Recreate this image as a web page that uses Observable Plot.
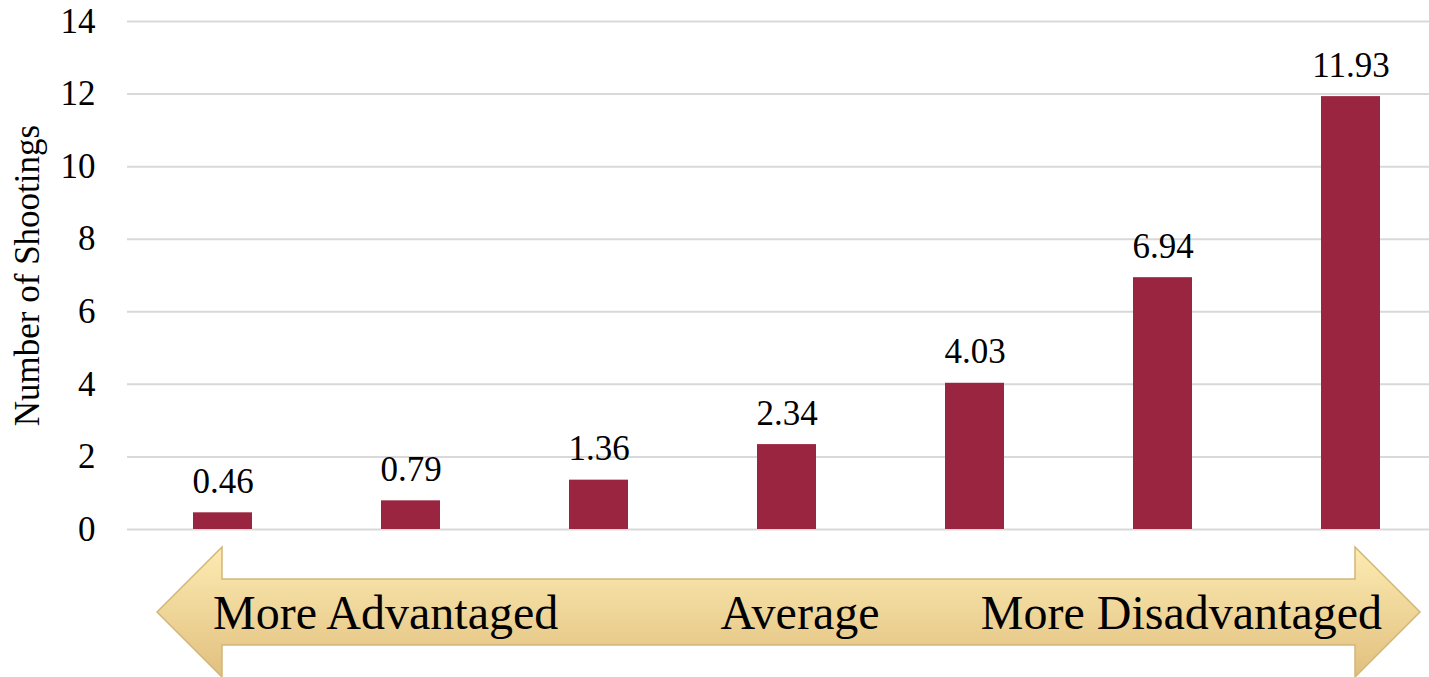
<!DOCTYPE html>
<html>
<head>
<meta charset="utf-8">
<script src="https://cdn.jsdelivr.net/npm/d3@7"></script>
<script src="https://cdn.jsdelivr.net/npm/@observablehq/plot@0.6"></script>
<style>
  html, body { margin: 0; padding: 0; background: #fff; }
  #chart svg { display: block; }
</style>
</head>
<body>
<div id="chart"></div>
<script>
const categories = ["1", "2", "3", "4", "5", "6", "7"];
const values = [0.46, 0.79, 1.36, 2.34, 4.03, 6.94, 11.93];
const valueLabels = ["0.46", "0.79", "1.36", "2.34", "4.03", "6.94", "11.93"];
const yTicks = [0, 2, 4, 6, 8, 10, 12, 14];
const yLabel = "Number of Shootings";
const arrowLabels = ["More Advantaged", "Average", "More Disadvantaged"];

const data = categories.map((c, i) => ({cat: c, value: values[i], label: valueLabels[i]}));
const FONT = '"Liberation Serif", "Times New Roman", serif';

const chart = Plot.plot({
  width: 1429,
  height: 677,
  marginLeft: 127,
  marginRight: -16,
  marginTop: 21,
  marginBottom: 148,
  style: {fontFamily: FONT, fontSize: "35px", color: "#000", background: "#fff", overflow: "hidden"},
  x: {domain: categories, paddingInner: 0.687, paddingOuter: 0.3435, axis: null},
  y: {domain: [0, 14], ticks: yTicks},
  marks: [
    Plot.gridY(yTicks, {stroke: "#D9D9D9", strokeWidth: 2, strokeOpacity: 1}),
    Plot.axisY(yTicks, {
      tickSize: 0, tickPadding: 32, fontSize: 35, fill: "#000",
      label: yLabel, labelAnchor: "center", labelArrow: "none", labelOffset: 113
    }),
    Plot.barY(data, {x: "cat", y: "value", fill: "#9A2540"}),
    Plot.text(data, {x: "cat", y: "value", text: "label", dy: -20, fontSize: 35, fill: "#000", lineAnchor: "bottom"})
  ]
});

// Decorative double-headed arrow beneath the bars
const svg = d3.select(chart);
const defs = svg.append("defs");
const grad = defs.append("linearGradient").attr("id", "arrowGrad")
  .attr("x1", 0).attr("y1", 0).attr("x2", 0).attr("y2", 1);
grad.append("stop").attr("offset", "0%").attr("stop-color", "#FDEBB2");
grad.append("stop").attr("offset", "100%").attr("stop-color", "#E1C07F");

const xl = 157, xlb = 222, xrb = 1355, xr = 1420;
const yc = 612, yHeadTop = 547, yHeadBot = 677, yShaftTop = 579, yShaftBot = 645;
const pts = [
  [xl, yc], [xlb, yHeadTop], [xlb, yShaftTop], [xrb, yShaftTop], [xrb, yHeadTop],
  [xr, yc], [xrb, yHeadBot], [xrb, yShaftBot], [xlb, yShaftBot], [xlb, yHeadBot]
];
const g = svg.append("g");
g.append("path")
  .attr("d", "M" + pts.map(p => p.join(",")).join("L") + "Z")
  .attr("fill", "url(#arrowGrad)")
  .attr("stroke", "#D3B577")
  .attr("stroke-width", 1.5);

const labelPos = [
  {x: 213, anchor: "start"},
  {x: 800, anchor: "middle"},
  {x: 1382, anchor: "end"}
];
arrowLabels.forEach((t, i) => {
  g.append("text")
    .attr("x", labelPos[i].x)
    .attr("y", 629)
    .attr("text-anchor", labelPos[i].anchor)
    .attr("font-family", FONT)
    .attr("font-size", 48)
    .attr("fill", "#000")
    .text(t);
});

document.getElementById("chart").appendChild(chart);
</script>
</body>
</html>
